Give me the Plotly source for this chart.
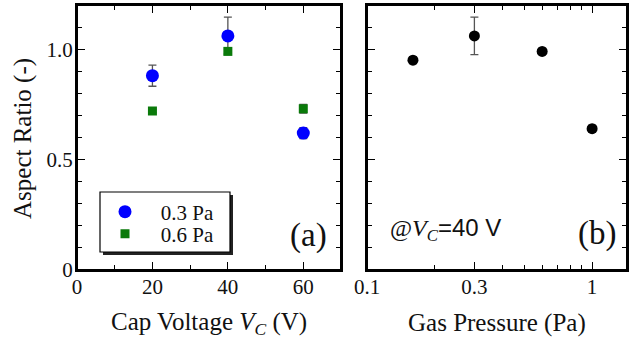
import plotly.graph_objects as go

# ---- data ----
vc = [20, 40, 60]
ar_03 = [0.88, 1.06, 0.62]
err_03 = [0.048, 0.085, 0.025]
ar_06 = [0.72, 0.99, 0.73]
err_06 = [0.008, 0.01, 0.02]

pressure = [0.16, 0.3, 0.6, 1.0]
ar_p = [0.95, 1.06, 0.99, 0.64]
err_p = [0.015, 0.085, 0.012, 0.015]

x_ticks_a = [0, 20, 40, 60]
y_ticks = [0, 0.5, 1.0]
y_tick_text = ["0", "0.5", "1.0"]
x_ticks_b = [0.1, 0.3, 1]
x_tick_text_b = ["0.1", "0.3", "1"]
x_minor_b = [0.2, 0.4, 0.5, 0.6, 0.7, 0.8, 0.9]

W, H = 629, 348
SERIF = "Times New Roman, Liberation Serif, Tinos, serif"

def px(x):
    return x / W

def py(y):
    return 1 - y / H

fig = go.Figure()

fig.add_trace(go.Scatter(
    x=vc, y=ar_03, mode="markers", name="\u00a0\u00a0\u00a00.3 Pa",
    marker=dict(symbol="circle", size=13, color="#0000ff"),
    error_y=dict(type="data", array=err_03, color="#555555", thickness=1.3, width=4),
    xaxis="x", yaxis="y", legend="legend"))
fig.add_trace(go.Scatter(
    x=vc, y=ar_06, mode="markers", name="\u00a0\u00a0\u00a00.6 Pa",
    marker=dict(symbol="square", size=9, color="#0a7a0a"),
    error_y=dict(type="data", array=err_06, color="#555555", thickness=1.3, width=4),
    xaxis="x", yaxis="y", legend="legend2"))
fig.add_trace(go.Scatter(
    x=pressure, y=ar_p, mode="markers", showlegend=False,
    marker=dict(symbol="circle", size=11, color="#000000"),
    error_y=dict(type="data", array=err_p, color="#555555", thickness=1.3, width=4),
    xaxis="x2", yaxis="y2"))

axis_common = dict(showline=True, linecolor="black", linewidth=2, mirror="allticks",
                   ticks="inside", ticklen=8, tickwidth=1.2, tickcolor="black",
                   showgrid=False, zeroline=False, automargin=False,
                   tickfont=dict(family=SERIF, size=21, color="#111111"))

frame_a = dict(type="rect", xref="x domain", yref="y domain", x0=0, x1=1, y0=0, y1=1,
               line=dict(color="black", width=2), fillcolor="rgba(0,0,0,0)", layer="above")
frame_b = dict(type="rect", xref="x2 domain", yref="y2 domain", x0=0, x1=1, y0=0, y1=1,
               line=dict(color="black", width=2), fillcolor="rgba(0,0,0,0)", layer="above")

fig.update_layout(
    template="none",
    width=W, height=H, margin=dict(l=0, r=0, t=0, b=0, pad=0, autoexpand=False),
    paper_bgcolor="white", plot_bgcolor="white",
    font=dict(family=SERIF),
    xaxis=dict(domain=[px(77), px(341)], range=[0, 70], tickmode="array",
               tickvals=x_ticks_a, ticklabelstandoff=-3,
               minor=dict(dtick=10, tick0=0, ticks="inside", ticklen=5, tickcolor="black"),
               anchor="y", **axis_common),
    yaxis=dict(domain=[py(270), py(5)], range=[0, 1.2], tickmode="array",
               tickvals=y_ticks, ticktext=y_tick_text, ticklabelstandoff=-2,
               minor=dict(dtick=0.1, tick0=0, ticks="inside", ticklen=5, tickcolor="black"),
               anchor="x", **axis_common),
    xaxis2=dict(domain=[px(367), px(627)], type="log", range=[-1, 0.155], tickmode="array",
                tickvals=x_ticks_b, ticktext=x_tick_text_b, ticklabelstandoff=-3,
                minor=dict(tickmode="array", tickvals=x_minor_b, ticks="inside", ticklen=5,
                           tickcolor="black"),
                anchor="y2", **axis_common),
    yaxis2=dict(domain=[py(270), py(5)], range=[0, 1.2], tickmode="array",
                tickvals=y_ticks, showticklabels=False,
                minor=dict(dtick=0.1, tick0=0, ticks="inside", ticklen=5, tickcolor="black"),
                anchor="x2", **axis_common),
    legend=dict(x=px(105), y=py(212), xanchor="left", yanchor="middle",
                bgcolor="rgba(0,0,0,0)", borderwidth=0,
                font=dict(family=SERIF, size=21, color="#111111"),
                itemwidth=30, tracegroupgap=0),
    legend2=dict(x=px(105), y=py(234), xanchor="left", yanchor="middle",
                 bgcolor="rgba(0,0,0,0)", borderwidth=0,
                 font=dict(family=SERIF, size=21, color="#111111"),
                 itemwidth=30, tracegroupgap=0),
    shapes=[
        frame_a,
        frame_b,
        dict(type="rect", xref="paper", yref="paper", x0=px(103), x1=px(233),
             y0=py(255), y1=py(195), fillcolor="#222222", line=dict(width=0), layer="above"),
        dict(type="rect", xref="paper", yref="paper", x0=px(100), x1=px(230),
             y0=py(252), y1=py(192), fillcolor="white",
             line=dict(color="black", width=1.2), layer="above"),
    ],
    annotations=[
        dict(text="Aspect Ratio (-)", x=px(23), y=py(139), xref="paper", yref="paper",
             textangle=-90, showarrow=False, xanchor="center", yanchor="middle",
             font=dict(family=SERIF, size=25, color="#111111")),
        dict(text="Cap Voltage <i>V<sub>C</sub></i> (V)", x=px(209), y=py(323),
             xref="paper", yref="paper", showarrow=False, xanchor="center", yanchor="middle",
             font=dict(family=SERIF, size=25, color="#111111")),
        dict(text="Gas Pressure (Pa)", x=px(497), y=py(323),
             xref="paper", yref="paper", showarrow=False, xanchor="center", yanchor="middle",
             font=dict(family=SERIF, size=25, color="#111111")),
        dict(text="(a)", x=px(308), y=py(236), xref="paper", yref="paper", showarrow=False,
             xanchor="center", yanchor="middle",
             font=dict(family=SERIF, size=33, color="#111111")),
        dict(text="(b)", x=px(597), y=py(233), xref="paper", yref="paper", showarrow=False,
             xanchor="center", yanchor="middle",
             font=dict(family=SERIF, size=33, color="#111111")),
        dict(text="@<i>V<sub>C</sub></i><span style=\"font-family:Arial, 'Liberation Sans'\">=40 V</span>",
             x=px(388), y=py(229), xref="paper", yref="paper", showarrow=False,
             xanchor="left", yanchor="middle",
             font=dict(family=SERIF, size=24, color="#111111")),
    ],
)

fig.write_html("out.html", config={"displayModeBar": False},
               post_script="document.body.style.margin='0px';")
